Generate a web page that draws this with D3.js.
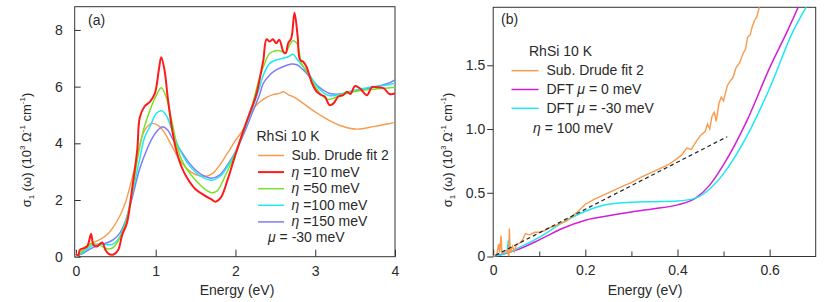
<!DOCTYPE html>
<meta charset="utf-8">
<script src="https://cdn.jsdelivr.net/npm/d3@7"></script>
<style>
  body { margin: 0; background: #fff; }
  svg { font-family: "Liberation Sans", Arial, sans-serif; }
</style>
<svg></svg>
<script>
// ---- panel (a): sigma1 vs energy, 10^3 Ohm^-1 cm^-1 ----
var drudeA = [[0,0.12],[0.03,0.04],[0.1,0.3],[0.2,0.48],[0.31,0.62],[0.41,0.83],[0.47,1.05],[0.56,1.49],[0.62,1.9],[0.68,2.5],[0.75,3.27],[0.81,4.05],[0.87,4.5],[0.95,4.7],[1.02,4.65],[1.1,4.42],[1.2,3.92],[1.3,3.42],[1.4,3.08],[1.5,2.9],[1.63,2.84],[1.72,2.95],[1.8,3.22],[1.9,3.65],[2.0,4.1],[2.1,4.5],[2.22,5.2],[2.3,5.45],[2.39,5.62],[2.47,5.72],[2.55,5.76],[2.6,5.82],[2.66,5.72],[2.74,5.62],[2.85,5.41],[2.96,5.18],[3.06,5.0],[3.18,4.8],[3.31,4.63],[3.52,4.5],[3.73,4.59],[3.9,4.68],[4.0,4.74]];
var eta10 = [[0,0.1],[0.03,0.05],[0.05,0.24],[0.14,0.36],[0.19,0.8],[0.22,0.42],[0.26,0.36],[0.33,0.5],[0.37,0.24],[0.41,0.1],[0.47,0.08],[0.53,0.24],[0.58,0.77],[0.64,1.19],[0.71,2.5],[0.77,3.8],[0.8,4.9],[0.86,5.3],[0.93,5.47],[0.99,5.76],[1.04,6.6],[1.07,7.04],[1.11,6.6],[1.15,5.65],[1.2,4.6],[1.25,3.85],[1.32,3.2],[1.4,2.75],[1.5,2.38],[1.6,2.18],[1.7,2.02],[1.75,1.94],[1.82,2.1],[1.9,2.7],[2.0,3.6],[2.1,4.45],[2.17,5.0],[2.26,5.7],[2.32,6.5],[2.35,6.94],[2.39,7.67],[2.43,7.59],[2.47,7.67],[2.51,7.53],[2.55,7.65],[2.6,7.24],[2.63,7.18],[2.66,7.53],[2.7,7.71],[2.74,8.61],[2.78,7.77],[2.81,6.94],[2.85,6.88],[2.89,6.7],[2.96,6.12],[3.02,5.82],[3.08,5.7],[3.12,5.65],[3.18,5.35],[3.23,5.41],[3.29,5.65],[3.35,5.7],[3.4,5.82],[3.44,5.74],[3.5,6.02],[3.56,5.94],[3.65,5.7],[3.71,5.98],[3.77,5.98],[3.86,5.94],[3.93,5.74],[4.0,5.76]];
var eta50 = [[0,0],[0.1,0.24],[0.2,0.45],[0.3,0.4],[0.4,0.27],[0.47,0.33],[0.55,0.65],[0.62,1.13],[0.7,2.2],[0.78,3.57],[0.85,4.5],[0.93,5.18],[1.01,5.7],[1.07,5.96],[1.13,5.65],[1.2,4.82],[1.26,4.0],[1.32,3.45],[1.4,3.05],[1.5,2.7],[1.6,2.42],[1.7,2.26],[1.77,2.32],[1.88,2.9],[2.0,3.65],[2.1,4.45],[2.2,5.25],[2.3,6.3],[2.35,6.7],[2.43,7.18],[2.51,7.27],[2.58,7.24],[2.62,7.16],[2.68,7.47],[2.72,7.62],[2.77,7.53],[2.83,6.82],[2.92,6.41],[3.0,6.0],[3.08,5.7],[3.16,5.55],[3.23,5.59],[3.31,5.7],[3.48,5.82],[3.69,5.9],[3.86,5.94],[4.0,5.98]];
var eta100 = [[0,0],[0.1,0.18],[0.2,0.38],[0.3,0.45],[0.4,0.42],[0.47,0.45],[0.55,0.71],[0.62,1.19],[0.7,2.14],[0.8,3.45],[0.86,4.2],[0.93,4.6],[1.01,5.06],[1.07,5.15],[1.13,5.0],[1.22,4.35],[1.3,3.8],[1.4,3.3],[1.5,2.98],[1.6,2.78],[1.7,2.7],[1.8,2.82],[1.9,3.18],[2.0,3.7],[2.1,4.38],[2.2,5.15],[2.3,5.95],[2.35,6.41],[2.43,6.82],[2.51,6.94],[2.6,7.0],[2.68,7.08],[2.72,7.14],[2.78,6.94],[2.85,6.7],[2.93,6.41],[3.02,6.02],[3.1,5.79],[3.18,5.68],[3.27,5.7],[3.48,5.86],[3.69,5.98],[3.9,6.06],[4.0,6.12]];
var eta150 = [[0,0],[0.1,0.14],[0.2,0.3],[0.3,0.42],[0.4,0.5],[0.47,0.6],[0.55,0.83],[0.62,1.25],[0.7,2.02],[0.8,3.1],[0.9,3.85],[0.95,4.15],[1.01,4.41],[1.08,4.58],[1.15,4.47],[1.22,4.12],[1.3,3.8],[1.4,3.38],[1.5,3.06],[1.6,2.86],[1.7,2.77],[1.8,2.88],[1.9,3.24],[2.0,3.7],[2.1,4.3],[2.2,5.0],[2.3,5.7],[2.35,6.12],[2.43,6.41],[2.51,6.59],[2.62,6.73],[2.7,6.8],[2.77,6.77],[2.85,6.59],[2.93,6.35],[3.02,6.06],[3.1,5.88],[3.18,5.76],[3.31,5.74],[3.52,5.86],[3.73,5.98],[3.9,6.1],[4.0,6.24]];
var ticksAx = [0, 1, 2, 3, 4];
var ticksAy = [0, 2, 4, 6, 8];
var legendA = ["Sub. Drude fit 2", "=10 meV", "=50 meV", "=100 meV", "=150 meV"];

// ---- panel (b): low-energy zoom ----
var drudeB = [[0,0.0],[0.008,0.02],[0.012,0.1],[0.014,0.03],[0.017,0.165],[0.019,0.03],[0.025,0.04],[0.03,0.05],[0.034,0.0],[0.035,0.22],[0.037,0.03],[0.042,0.08],[0.046,0.04],[0.05,0.09],[0.055,0.1],[0.06,0.11],[0.065,0.14],[0.07,0.18],[0.08,0.17],[0.09,0.19],[0.1,0.19],[0.11,0.2],[0.12,0.22],[0.14,0.25],[0.16,0.28],[0.18,0.34],[0.2,0.41],[0.22,0.45],[0.25,0.5],[0.28,0.55],[0.3,0.58],[0.32,0.62],[0.35,0.67],[0.38,0.72],[0.4,0.77],[0.41,0.8],[0.42,0.85],[0.43,0.84],[0.44,0.9],[0.45,0.95],[0.46,0.98],[0.465,1.04],[0.47,1.0],[0.475,1.1],[0.48,1.13],[0.484,1.06],[0.49,1.2],[0.495,1.25],[0.5,1.22],[0.508,1.34],[0.515,1.38],[0.52,1.4],[0.527,1.48],[0.535,1.52],[0.542,1.59],[0.548,1.63],[0.552,1.72],[0.558,1.74],[0.562,1.8],[0.567,1.85],[0.572,1.88],[0.578,1.96],[0.585,2.02]];
var dftMu0 = [[0,0],[0.05,0.05],[0.1,0.13],[0.15,0.22],[0.2,0.285],[0.25,0.32],[0.3,0.35],[0.35,0.375],[0.4,0.405],[0.44,0.46],[0.47,0.56],[0.5,0.72],[0.55,1.06],[0.6,1.48],[0.64,1.78],[0.665,1.98]];
var dftMu30 = [[0,0],[0.03,0.03],[0.033,0.13],[0.036,0.035],[0.05,0.06],[0.1,0.15],[0.15,0.265],[0.2,0.355],[0.25,0.41],[0.3,0.425],[0.35,0.43],[0.4,0.435],[0.44,0.46],[0.47,0.53],[0.5,0.65],[0.55,0.94],[0.6,1.32],[0.65,1.76],[0.683,1.98]];
var linearFit = [[0.005,0.01],[0.508,0.94]];
var ticksBx = [0, 0.2, 0.4, 0.6];
var minorBx = [0.1, 0.3, 0.5];
var ticksBy = [0, 0.5, 1.0, 1.5];
var legendB = ["Sub. Drude fit 2", "= 0 meV", "= -30 meV"];

var orange = "#f99a4c", red = "#ff1a1a", green = "#7ce02a", cyan = "#1ee8f2", violet = "#7d7cf6", magenta = "#d21ed6";
var ink = "#2a2a2a";

var svg = d3.select("svg").attr("width", 830).attr("height", 302);

var xA = d3.scaleLinear().domain([-0.015, 4.0]).range([74.7, 395]);
var yA = d3.scaleLinear().domain([0, 8.82]).range([256.7, 6.7]);
var xB = d3.scaleLinear().domain([0, 0.7]).range([493.2, 815.7]);
var yB = d3.scaleLinear().domain([0, 1.955]).range([256.5, 7.3]);

function frame(x, y, id) {
    svg.append("clipPath").attr("id", id).append("rect")
        .attr("x", x.range()[0]).attr("y", y.range()[1])
        .attr("width", x.range()[1] - x.range()[0]).attr("height", y.range()[0] - y.range()[1]);
}
frame(xA, yA, "clipA");
frame(xB, yB, "clipB");

function yTitle(x, y) {
    var t = svg.append("text").attr("transform", "translate(" + x + "," + y + ") rotate(-90)")
        .attr("text-anchor", "middle").attr("font-size", 13).attr("fill", ink);
    t.append("tspan").text("\u03c3");
    t.append("tspan").attr("font-size", 8).attr("dy", 3).text("1");
    t.append("tspan").attr("dy", -3).text(" (\u03c9) (10");
    t.append("tspan").attr("font-size", 8).attr("dy", -6).text("3");
    t.append("tspan").attr("dy", 6).text(" \u03a9");
    t.append("tspan").attr("font-size", 8).attr("dy", -6).text("-1");
    t.append("tspan").attr("dy", 6).text(" cm");
    t.append("tspan").attr("font-size", 8).attr("dy", -6).text("-1");
    t.append("tspan").attr("dy", 6).text(")");
}

function styleAxis(g) {
    g.select(".domain").remove();
    g.selectAll("line").attr("stroke", "#333");
    g.selectAll("text").attr("font-size", 14).attr("fill", ink)
        .style("font-family", '"Liberation Sans", Arial, sans-serif');
}

// panel (a) axes
svg.append("g").attr("transform", "translate(0," + yA.range()[0] + ")")
    .call(d3.axisBottom(xA).tickValues(ticksAx).tickSize(-7).tickPadding(9).tickFormat(d3.format("d")))
    .call(styleAxis);
svg.append("g").attr("transform", "translate(" + xA.range()[0] + ",0)")
    .call(d3.axisLeft(yA).tickValues(ticksAy).tickSize(-6).tickPadding(12).tickFormat(d3.format("d")))
    .call(styleAxis);

// panel (b) axes
svg.append("g").attr("transform", "translate(0," + yB.range()[0] + ")")
    .call(d3.axisBottom(xB).tickValues(ticksBx).tickSize(-7).tickPadding(9).tickFormat(d => d === 0 ? "0" : d3.format(".1f")(d)))
    .call(styleAxis);
svg.append("g").attr("transform", "translate(0," + yB.range()[0] + ")")
    .call(d3.axisBottom(xB).tickValues(minorBx).tickSize(-5).tickFormat(""))
    .call(styleAxis);
svg.append("g").attr("transform", "translate(" + xB.range()[0] + ",0)")
    .call(d3.axisLeft(yB).tickValues(ticksBy).tickSize(6).tickPadding(2).tickFormat(d => d === 0 ? "0" : d3.format(".1f")(d)))
    .call(styleAxis);

// frames
[[xA, yA], [xB, yB]].forEach(function (p) {
    svg.append("rect").attr("x", p[0].range()[0]).attr("y", p[1].range()[1])
        .attr("width", p[0].range()[1] - p[0].range()[0]).attr("height", p[1].range()[0] - p[1].range()[1])
        .attr("fill", "none").attr("stroke", "#333").attr("stroke-width", 1);
});

// curves
var lineA = d3.line().x(d => xA(d[0])).y(d => yA(d[1])).curve(d3.curveCatmullRom.alpha(0.5));
var lineB = d3.line().x(d => xB(d[0])).y(d => yB(d[1])).curve(d3.curveMonotoneX);
var lineBraw = d3.line().x(d => xB(d[0])).y(d => yB(d[1]));

var gA = svg.append("g").attr("clip-path", "url(#clipA)").attr("fill", "none");
[[drudeA, orange, 1.4], [eta150, violet, 1.5], [eta100, cyan, 1.5], [eta50, green, 1.5], [eta10, red, 2]]
    .forEach(function (s) {
        gA.append("path").attr("d", lineA(s[0])).attr("stroke", s[1]).attr("stroke-width", s[2]);
    });

var gB = svg.append("g").attr("clip-path", "url(#clipB)").attr("fill", "none");
gB.append("path").attr("d", lineB(dftMu0)).attr("stroke", magenta).attr("stroke-width", 1.5);
gB.append("path").attr("d", lineB(dftMu30)).attr("stroke", cyan).attr("stroke-width", 1.5);
gB.append("path").attr("d", lineBraw(drudeB)).attr("stroke", orange).attr("stroke-width", 1.4);
gB.append("path").attr("d", lineBraw(linearFit)).attr("stroke", "#222").attr("stroke-width", 1.2)
    .attr("stroke-dasharray", "4,3");

// titles
yTitle(31, 150);
yTitle(452, 150);
svg.append("text").attr("x", 237).attr("y", 295).attr("text-anchor", "middle").attr("font-size", 14).attr("fill", ink).text("Energy (eV)");
svg.append("text").attr("x", 645).attr("y", 295).attr("text-anchor", "middle").attr("font-size", 14).attr("fill", ink).text("Energy (eV)");
svg.append("text").attr("x", 88).attr("y", 25).attr("font-size", 14).attr("fill", ink).text("(a)");
svg.append("text").attr("x", 501).attr("y", 24).attr("font-size", 14).attr("fill", ink).text("(b)");

// legend (a)
var legA = svg.append("g").attr("font-size", 14).attr("fill", ink);
legA.append("text").attr("x", 256.5).attr("y", 141).text("RhSi 10 K");
[orange, red, green, cyan, violet].forEach(function (c, i) {
    var y = 155.5 + i * 16.6;
    legA.append("line").attr("x1", 258).attr("x2", 284).attr("y1", y).attr("y2", y)
        .attr("stroke", c).attr("stroke-width", i === 1 ? 2 : 1.5);
    var t = legA.append("text").attr("x", 291.5).attr("y", y + 4.5);
    if (i > 0) t.append("tspan").attr("font-style", "italic").text("\u03b7 ");
    t.append("tspan").text(legendA[i]);
});
var muA = legA.append("text").attr("x", 268).attr("y", 241.5);
muA.append("tspan").attr("font-style", "italic").text("\u03bc");
muA.append("tspan").text(" = -30 meV");

// legend (b)
var legB = svg.append("g").attr("font-size", 14).attr("fill", ink);
legB.append("text").attr("x", 529).attr("y", 56).text("RhSi 10 K");
[orange, magenta, cyan].forEach(function (c, i) {
    var y = 70.7 + i * 18.8;
    legB.append("line").attr("x1", 511.5).attr("x2", 538.5).attr("y1", y).attr("y2", y)
        .attr("stroke", c).attr("stroke-width", 1.5);
    var t = legB.append("text").attr("x", 546.5).attr("y", y + 4.5);
    if (i > 0) {
        t.append("tspan").text("DFT ");
        t.append("tspan").attr("font-style", "italic").text("\u03bc");
        t.append("tspan").text(" " + legendB[i]);
    } else {
        t.text(legendB[i]);
    }
});
var etaB = legB.append("text").attr("x", 533).attr("y", 132.5);
etaB.append("tspan").attr("font-style", "italic").text("\u03b7");
etaB.append("tspan").text(" = 100 meV");
</script>
